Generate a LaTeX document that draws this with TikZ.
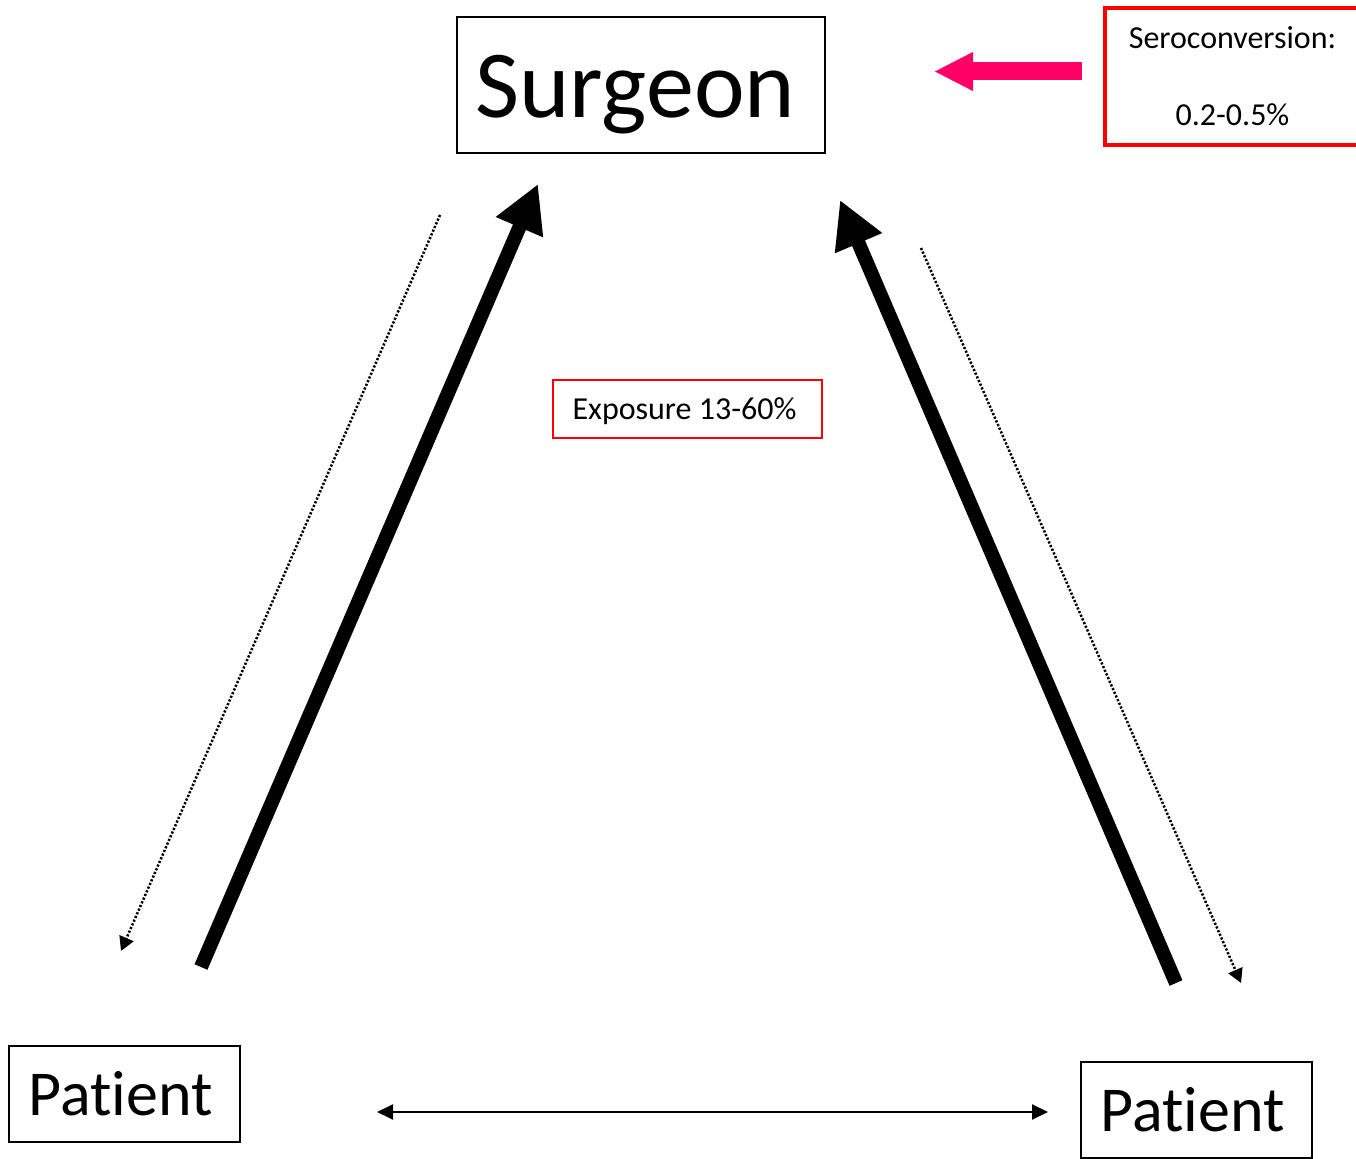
\documentclass[tikz,border=0pt]{standalone}
\usepackage{fontspec}
\setmainfont{Carlito}[Ligatures=NoCommon]
\usetikzlibrary{arrows.meta}
\definecolor{hotpink}{RGB}{255,0,102}

\begin{document}
\begin{tikzpicture}[x=0.5pt,y=-0.5pt,
    box/.style={draw,line width=1pt,inner sep=0pt},
    redbox/.style={draw=red,inner sep=0pt,align=center,font=\fontsize{16}{19}\selectfont},
    bigarrow/.style={line width=7pt,-{Triangle[length=23.5pt,width=24pt]}},
    dotarrow/.style={line width=1.25pt,dash pattern=on 1.1pt off 0.9pt,-{Triangle[length=7pt,width=7.5pt]}}]
    \useasboundingbox (0,0) rectangle (1356,1159);
    % boxes
    \node[box,minimum width=184pt,minimum height=68pt,text height=33pt,text depth=0pt,font=\fontsize{48}{57}\selectfont] (surgeon) at (641,85) {Surgeon\hspace*{6pt}};
    \node[box,minimum width=115.5pt,minimum height=48pt,font=\fontsize{32}{38}\selectfont] (patl) at (124.5,1094) {Patient\hspace*{4pt}};
    \node[box,minimum width=115.5pt,minimum height=48pt,font=\fontsize{32}{38}\selectfont] (patr) at (1196.5,1110) {Patient\hspace*{4pt}};
    \node[redbox,line width=1pt,minimum width=134.5pt,minimum height=29pt,text height=11pt,text depth=0pt] (expo) at (687.5,409) {Exposure 13-60\%\hspace*{3pt}};
    \node[redbox,line width=2pt,minimum width=127.5pt,minimum height=68.5pt] (sero) at (1232.5,76.5) {Seroconversion:\\[19.5pt]0.2-0.5\%};
    % arrow ends
    \coordinate (a1) at (201,967); \coordinate (a2) at (538,184);
    \coordinate (b1) at (1176,983); \coordinate (b2) at (840,200);
    \coordinate (c1) at (440,215); \coordinate (c2) at (121,951);
    \coordinate (d1) at (921,248); \coordinate (d2) at (1241,983);
    \coordinate (e1) at (377,1112); \coordinate (e2) at (1048,1112);
    \coordinate (f1) at (1082,71.5); \coordinate (f2) at (934,71.5);
    \draw[bigarrow] (a1) -- (a2);
    \draw[bigarrow] (b1) -- (b2);
    \draw[dotarrow] (c1) -- (c2);
    \draw[dotarrow] (d1) -- (d2);
    \draw[line width=1pt,{Triangle[length=8pt,width=7.5pt]}-{Triangle[length=8pt,width=7.5pt]}] (e1) -- (e2);
    \draw[hotpink,line width=9pt,-{Triangle[length=19.5pt,width=18pt]}] (f1) -- (f2);
\end{tikzpicture}
\end{document}
